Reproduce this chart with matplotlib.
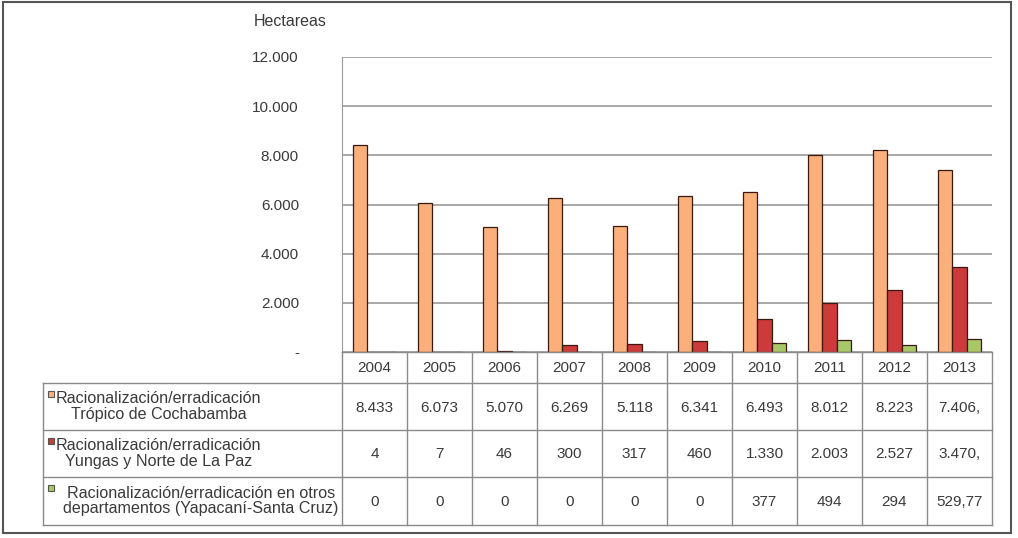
import numpy as np
import matplotlib
matplotlib.use("Agg")
import matplotlib.pyplot as plt
from matplotlib.patches import Rectangle

plt.rcParams['font.family'] = ['Liberation Sans', 'DejaVu Sans']

# datos (hectareas)
years = ["2004", "2005", "2006", "2007", "2008", "2009", "2010", "2011", "2012", "2013"]
tropico = [8433, 6073, 5070, 6269, 5118, 6341, 6493, 8012, 8223, 7406]
yungas = [4, 7, 46, 300, 317, 460, 1330, 2003, 2527, 3470]
otros = [0, 0, 0, 0, 0, 0, 377, 494, 294, 529.77]

tropico_txt = ["8.433", "6.073", "5.070", "6.269", "5.118", "6.341", "6.493", "8.012", "8.223", "7.406,"]
yungas_txt = ["4", "7", "46", "300", "317", "460", "1.330", "2.003", "2.527", "3.470,"]
otros_txt = ["0", "0", "0", "0", "0", "0", "377", "494", "294", "529,77"]

labels = ["Racionalización/erradicación\nTrópico de Cochabamba",
          "Racionalización/erradicación\nYungas y Norte de La Paz",
          "Racionalización/erradicación en otros\ndepartamentos (Yapacaní-Santa Cruz)"]
colors = ["#FBB07C", "#CC3A3A", "#A8C767"]
yticks = [0, 2000, 4000, 6000, 8000, 10000, 12000]
ytick_lbl = ["-", "2.000", "4.000", "6.000", "8.000", "10.000", "12.000"]

W, H = 1018, 538
fig = plt.figure(figsize=(W / 100, H / 100), dpi=100)

def px(x0, y0, x1, y1):
    return [x0 / W, 1 - y1 / H, (x1 - x0) / W, (y1 - y0) / H]

txtc = "#3a3a3a"
fs = 11

# --- barras ---
ax = fig.add_axes(px(342, 57, 992, 352))
x = np.arange(len(years)) + 0.5
bw = 0.223
for k, (vals, c) in enumerate(zip([tropico, yungas, otros], colors)):
    ax.bar(x + (k - 1) * bw, vals, bw, color=c, edgecolor="#3a1a10", linewidth=0.9, zorder=3)
ax.set_xlim(0, 10)
ax.set_ylim(0, 12000)
ax.set_yticks(yticks)
ax.set_yticklabels(ytick_lbl, fontsize=fs, color=txtc)
ax.tick_params(axis='y', length=0, pad=31)
ax.set_xticks([])
for s in ["top", "right", "bottom"]:
    ax.spines[s].set_visible(False)
ax.spines["left"].set_color("#999999")
ax.yaxis.grid(True, color="#9a9a9a", linewidth=1.2, zorder=0)
ax.set_axisbelow(True)

# --- tabla y marco ---
ov = fig.add_axes([0, 0, 1, 1])
ov.set_xlim(0, W)
ov.set_ylim(H, 0)
ov.axis("off")
ov.add_patch(Rectangle((3, 2), 1008, 531, fill=False, edgecolor="#555555", linewidth=1.5))

ov.text(290, 21, "Hectareas", fontsize=11.5, color=txtc, ha="center", va="center")

gc = "#8a8a8a"
col0, cw = 342, 65
right = col0 + cw * len(years)
ytop, yhdr, rows = 352, 383, [383, 430, 477, 525]
tl = 43
ov.plot([col0, right], [ytop, ytop], color=gc, lw=1)
for yy in rows:
    ov.plot([tl, right], [yy, yy], color=gc, lw=1)
ov.plot([tl, tl], [rows[0], rows[-1]], color=gc, lw=1)
for i in range(len(years) + 1):
    xx = col0 + i * cw
    ov.plot([xx, xx], [ytop, rows[-1]], color=gc, lw=1)

for i, yr in enumerate(years):
    cx = col0 + cw * (i + 0.5)
    ov.text(cx, (ytop + yhdr) / 2, yr, fontsize=fs, color=txtc, ha="center", va="center")
    for r, txts in enumerate([tropico_txt, yungas_txt, otros_txt]):
        ov.text(cx, (rows[r] + rows[r + 1]) / 2 + 1, txts[i], fontsize=fs, color=txtc,
                ha="center", va="center")

lab_x = [56, 56, 63]
for r, (lab, c) in enumerate(zip(labels, colors)):
    cy = (rows[r] + rows[r + 1]) / 2
    ov.text(lab_x[r], cy, lab, fontsize=11.6, color=txtc, ha="left", va="center",
            multialignment="center", linespacing=1.05)
    ov.add_patch(Rectangle((48, cy - 16), 6, 6, facecolor=c, edgecolor="#555555", lw=0.8))

fig.savefig("out.png", dpi=100)
